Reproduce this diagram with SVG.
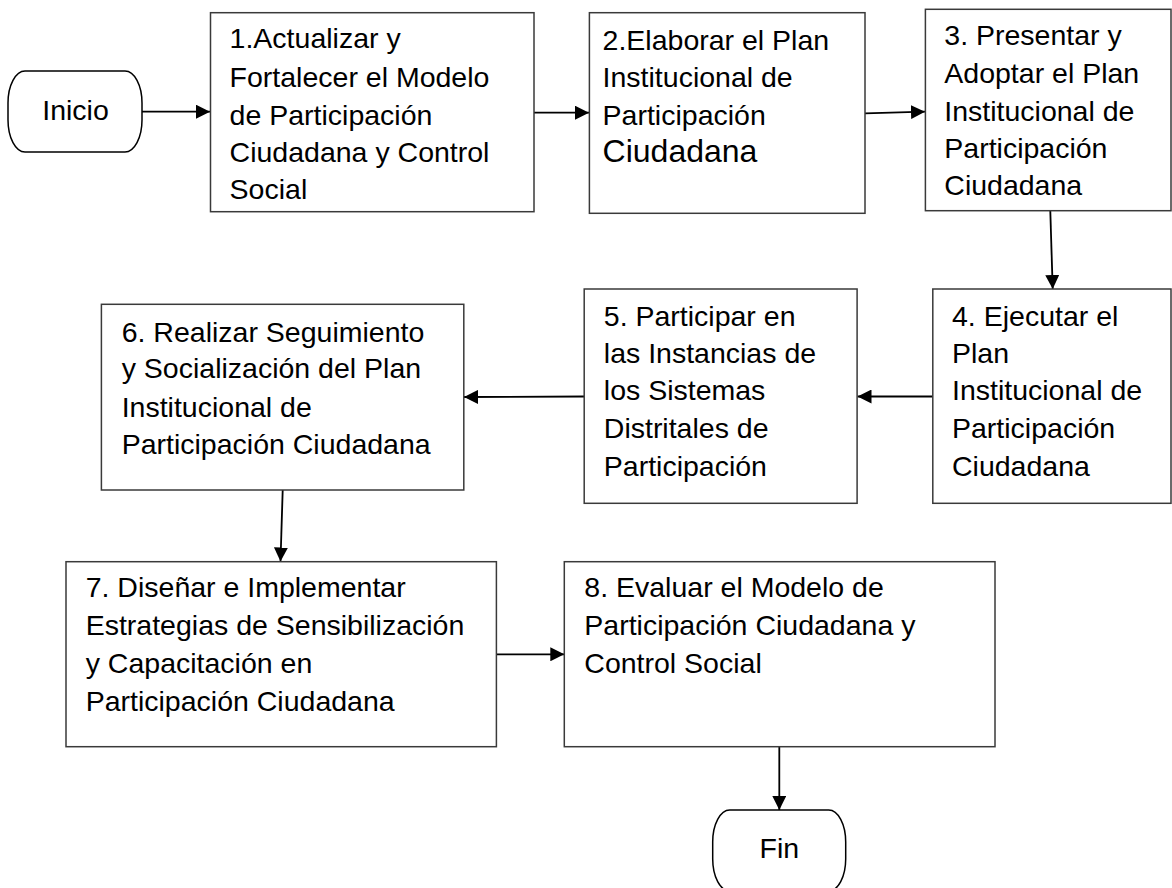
<svg xmlns="http://www.w3.org/2000/svg" width="1172" height="888" viewBox="0 0 1172 888">
  <style>
    .box { fill: #ffffff; stroke: #3a3a3a; stroke-width: 1.5; }
    .term { fill: #ffffff; stroke: #000000; stroke-width: 1.5; }
    .t { font-family: "Liberation Sans", Arial, sans-serif; font-size: 28.5px; fill: #000000; }
    .c { text-anchor: middle; }
    .conn { stroke: #000000; stroke-width: 1.8; fill: none; marker-end: url(#ah); }
  </style>
  <defs>
    <marker id="ah" markerWidth="15" markerHeight="14" refX="14" refY="7" orient="auto" markerUnits="userSpaceOnUse">
      <path d="M0,0 L14,7 L0,14 z" fill="#000000"/>
    </marker>
  </defs>
  <rect width="1172" height="888" fill="#ffffff"/>

  <g id="connectors">
    <line class="conn" x1="142" y1="111.7" x2="210" y2="111.7"/>
    <line class="conn" x1="534" y1="112.7" x2="589" y2="112.7"/>
    <line class="conn" x1="865" y1="113.3" x2="925" y2="111.7"/>
    <line class="conn" x1="1050.3" y1="211" x2="1052.7" y2="289"/>
    <line class="conn" x1="932.8" y1="396.5" x2="857.5" y2="396.5"/>
    <line class="conn" x1="584.2" y1="396.5" x2="464" y2="397"/>
    <line class="conn" x1="282.7" y1="490" x2="280.5" y2="561.5"/>
    <line class="conn" x1="496.4" y1="654.3" x2="564.3" y2="654.3"/>
    <line class="conn" x1="779.3" y1="746.7" x2="779.3" y2="810"/>
  </g>

  <g id="inicio">
    <rect class="term" x="8" y="71" width="134" height="81" rx="17" ry="32"/>
    <text class="t c" x="75.5" y="120">Inicio</text>
  </g>

  <g id="n1">
    <rect class="box" x="210.5" y="12.7" width="323.5" height="199"/>
    <text class="t" x="229.6">
      <tspan x="229.6" y="48.3">1.Actualizar y</tspan>
      <tspan x="229.6" y="87">Fortalecer el Modelo</tspan>
      <tspan x="229.6" y="124.7">de Participación</tspan>
      <tspan x="229.6" y="162.3">Ciudadana y Control</tspan>
      <tspan x="229.6" y="199.3">Social</tspan>
    </text>
  </g>

  <g id="n2">
    <rect class="box" x="589.4" y="12.7" width="275.6" height="200.6"/>
    <text class="t" x="602.6">
      <tspan x="602.6" y="50">2.Elaborar el Plan</tspan>
      <tspan x="602.6" y="87.3">Institucional de</tspan>
      <tspan x="602.6" y="125">Participación</tspan>
      <tspan x="602.6" y="162.3" style="font-size:32px">Ciudadana</tspan>
    </text>
  </g>

  <g id="n3">
    <rect class="box" x="925.4" y="9.3" width="245.6" height="201.4"/>
    <text class="t" x="944.3">
      <tspan x="944.3" y="45">3. Presentar y</tspan>
      <tspan x="944.3" y="83.3">Adoptar el Plan</tspan>
      <tspan x="944.3" y="120.7">Institucional de</tspan>
      <tspan x="944.3" y="158.3">Participación</tspan>
      <tspan x="944.3" y="195">Ciudadana</tspan>
    </text>
  </g>

  <g id="n4">
    <rect class="box" x="932.8" y="289" width="238.2" height="214.3"/>
    <text class="t" x="952">
      <tspan x="952" y="326">4. Ejecutar el</tspan>
      <tspan x="952" y="362.7">Plan</tspan>
      <tspan x="952" y="400">Institucional de</tspan>
      <tspan x="952" y="438.3">Participación</tspan>
      <tspan x="952" y="476">Ciudadana</tspan>
    </text>
  </g>

  <g id="n5">
    <rect class="box" x="584.2" y="289" width="272.9" height="214.3"/>
    <text class="t" x="603.8">
      <tspan x="603.8" y="326">5. Participar en</tspan>
      <tspan x="603.8" y="362.7">las Instancias de</tspan>
      <tspan x="603.8" y="400">los Sistemas</tspan>
      <tspan x="603.8" y="438.3">Distritales de</tspan>
      <tspan x="603.8" y="476">Participación</tspan>
    </text>
  </g>

  <g id="n6">
    <rect class="box" x="101.4" y="304.3" width="362.4" height="185.7"/>
    <text class="t" x="121.7">
      <tspan x="121.7" y="341.7">6. Realizar Seguimiento</tspan>
      <tspan x="121.7" y="378.3">y Socialización del Plan</tspan>
      <tspan x="121.7" y="416.7">Institucional de</tspan>
      <tspan x="121.7" y="454.3">Participación Ciudadana</tspan>
    </text>
  </g>

  <g id="n7">
    <rect class="box" x="66" y="561.7" width="430.4" height="185"/>
    <text class="t" x="85.7">
      <tspan x="85.7" y="597.3">7. Diseñar e Implementar</tspan>
      <tspan x="85.7" y="635">Estrategias de Sensibilización</tspan>
      <tspan x="85.7" y="673.3">y Capacitación en</tspan>
      <tspan x="85.7" y="710.7">Participación Ciudadana</tspan>
    </text>
  </g>

  <g id="n8">
    <rect class="box" x="564.3" y="561.7" width="430.7" height="185"/>
    <text class="t" x="584.3">
      <tspan x="584.3" y="597.3">8. Evaluar el Modelo de</tspan>
      <tspan x="584.3" y="635">Participación Ciudadana y</tspan>
      <tspan x="584.3" y="672.7">Control Social</tspan>
    </text>
  </g>

  <g id="fin">
    <rect class="term" x="712.7" y="810" width="133" height="81" rx="17" ry="32"/>
    <text class="t c" x="779.3" y="858">Fin</text>
  </g>
</svg>
